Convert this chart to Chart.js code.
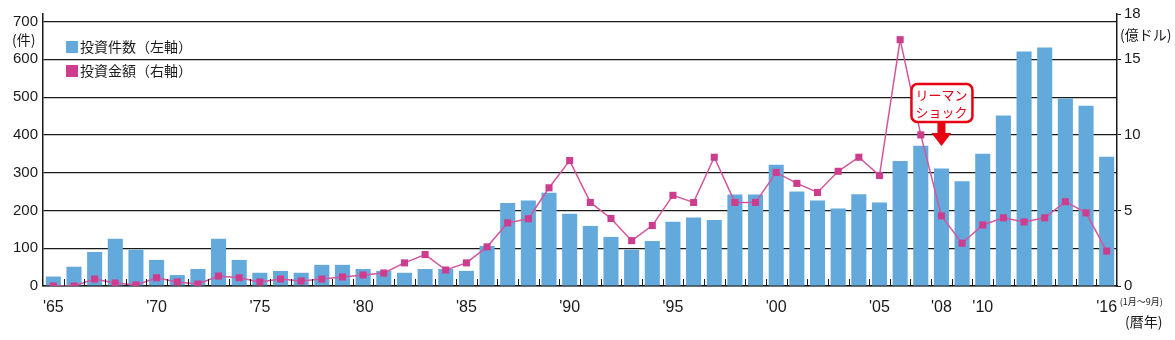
<!DOCTYPE html>
<html>
<head>
<meta charset="utf-8">
<script src="https://cdn.jsdelivr.net/npm/chart.js@4/dist/chart.umd.min.js"></script>
<style>
  html, body { margin: 0; padding: 0; background: #fff; }
  #wrap { width: 1175px; height: 340px; position: relative; }
</style>
</head>
<body>
<div id="wrap"><canvas id="chart" width="1175" height="340"></canvas></div>
<script>
// 1965 - 2016
const years = []
for (let y = 1965; y <= 2016; y++) years.push(y)

// 投資件数 (件, left axis)
const dealCounts = [
  25, 51, 90, 125, 96, 69, 29, 45, 125, 69,
  35, 40, 35, 56, 56, 45, 40, 35, 45, 45,
  40, 106, 220, 226, 247, 191, 159, 130, 96, 119,
  170, 181, 175, 242, 242, 321, 250, 226, 205, 243,
  221, 331, 371, 311, 277, 350, 451, 621, 631, 496,
  477, 342
]

// 投資金額 (億ドル, right axis)
const dealAmounts = [
  0.0, 0.0, 0.46, 0.2, 0.07, 0.55, 0.27, 0.13, 0.66, 0.55,
  0.27, 0.46, 0.33, 0.46, 0.6, 0.73, 0.86, 1.53, 2.08, 1.06,
  1.53, 2.59, 4.18, 4.45, 6.5, 8.3, 5.53, 4.47, 3.0, 4.0,
  6.0, 5.53, 8.52, 5.53, 5.53, 7.52, 6.79, 6.19, 7.59, 8.52,
  7.31, 16.3, 10.0, 4.64, 2.83, 4.04, 4.51, 4.24, 4.51, 5.58,
  4.84, 2.31
]

const shownYears = [1965, 1970, 1975, 1980, 1985, 1990, 1995, 2000, 2005, 2008, 2010, 2016]
const leftTicks = [0, 100, 200, 300, 400, 500, 600, 700]
const rightTicks = [0, 5, 10, 15, 18]

const BLUE = '#64a9dc'
const PINK = '#cc3d8e'
const RED = '#e60012'
const INK = '#1a1a1a'
const latin = 'Liberation Sans, Arial, sans-serif'
const jp = '"Noto Sans CJK JP", sans-serif'

const yearLabel = (y) => "'" + String(y).slice(2)

const extras = {
  id: 'extras',
  afterDraw(chart) {
    const c = chart.ctx
    const x = chart.scales.x
    const area = chart.chartArea
    const bottom = area.bottom

    // small ticks between bars
    c.save()
    c.strokeStyle = INK
    c.lineWidth = 1
    const step = x.width / years.length
    for (let i = 1; i < years.length; i++) {
      const px = Math.round(x.left + i * step) + 0.5
      c.beginPath()
      c.moveTo(px, bottom)
      c.lineTo(px, bottom - 7)
      c.stroke()
    }

    // unit labels
    c.fillStyle = INK
    c.font = '14px ' + jp
    c.textBaseline = 'middle'
    c.textAlign = 'left'
    c.fillText('(件)', 12, 40)
    c.fillText('(億ドル)', 1120, 35)
    c.fillText('(暦年)', 1125, 322)
    c.font = '9px ' + jp
    const x16 = x.getPixelForValue(years.length - 1)
    c.fillText('(1月～9月)', x16 + 13, 302)

    // legend
    const items = [
      { color: BLUE, text: '投資件数（左軸）' },
      { color: PINK, text: '投資金額（右軸）' }
    ]
    c.font = '14px ' + jp
    items.forEach((it, i) => {
      const ly = 47 + i * 24
      c.fillStyle = it.color
      c.fillRect(66, ly - 6, 12, 12)
      c.fillStyle = INK
      c.fillText(it.text, 80, ly)
    })

    // リーマンショック callout
    const cx = x.getPixelForValue(years.indexOf(2008))
    const bx = cx - 30, by = 84, bw = 61, bh = 38, r = 6
    c.fillStyle = '#fff'
    c.strokeStyle = RED
    c.lineWidth = 2.5
    c.beginPath()
    c.roundRect(bx, by, bw, bh, r)
    c.fill()
    c.stroke()
    c.fillStyle = RED
    c.font = '13px ' + jp
    c.textAlign = 'center'
    c.fillText('リーマン', cx, by + 11)
    c.fillText('ショック', cx, by + 28)
    c.fillRect(cx - 4, by + bh, 8, 12)
    c.beginPath()
    c.moveTo(cx - 10, by + bh + 11)
    c.lineTo(cx + 10, by + bh + 11)
    c.lineTo(cx, by + bh + 24)
    c.closePath()
    c.fill()
    c.restore()
  }
}

new Chart(document.getElementById('chart'), {
  type: 'bar',
  data: {
    labels: years,
    datasets: [
      {
        type: 'line',
        label: '投資金額（右軸）',
        data: dealAmounts,
        yAxisID: 'y1',
        borderColor: '#d4559e',
        borderWidth: 1.5,
        pointStyle: 'rect',
        pointRadius: 5,
        pointBackgroundColor: PINK,
        pointBorderColor: PINK,
        pointBorderWidth: 0,
        tension: 0,
        order: 0
      },
      {
        label: '投資件数（左軸）',
        data: dealCounts,
        yAxisID: 'y',
        backgroundColor: BLUE,
        categoryPercentage: 1,
        barPercentage: 0.73,
        order: 1
      }
    ]
  },
  options: {
    responsive: false,
    animation: false,
    layout: { padding: { top: 14, left: 0, right: 0, bottom: 0 } },
    plugins: { legend: { display: false }, tooltip: { enabled: false } },
    scales: {
      x: {
        offset: true,
        grid: { display: false },
        border: { color: INK, width: 1.5 },
        ticks: {
          autoSkip: false,
          maxRotation: 0,
          padding: 4,
          color: INK,
          font: { family: latin, size: 16 },
          callback: (v, i) => shownYears.includes(years[i]) ? yearLabel(years[i]) : ''
        },
        afterFit: (s) => { s.height = 54 }
      },
      y: {
        position: 'left',
        min: 0,
        max: 720,
        afterBuildTicks: (s) => { s.ticks = leftTicks.map((v) => ({ value: v })) },
        grid: { color: INK, lineWidth: 1.2, drawTicks: false },
        border: { color: INK, width: 1.5 },
        ticks: { color: INK, padding: 5, font: { family: latin, size: 15 } },
        afterFit: (s) => { s.width = 43 }
      },
      y1: {
        position: 'right',
        min: 0,
        max: 18,
        afterBuildTicks: (s) => { s.ticks = rightTicks.map((v) => ({ value: v })) },
        grid: { drawOnChartArea: false, color: INK, tickLength: 4 },
        border: { color: INK, width: 1.5 },
        ticks: { color: INK, padding: 3, font: { family: latin, size: 15 } },
        afterFit: (s) => { s.width = 58 }
      }
    }
  },
  plugins: [extras]
})
</script>
</body>
</html>
